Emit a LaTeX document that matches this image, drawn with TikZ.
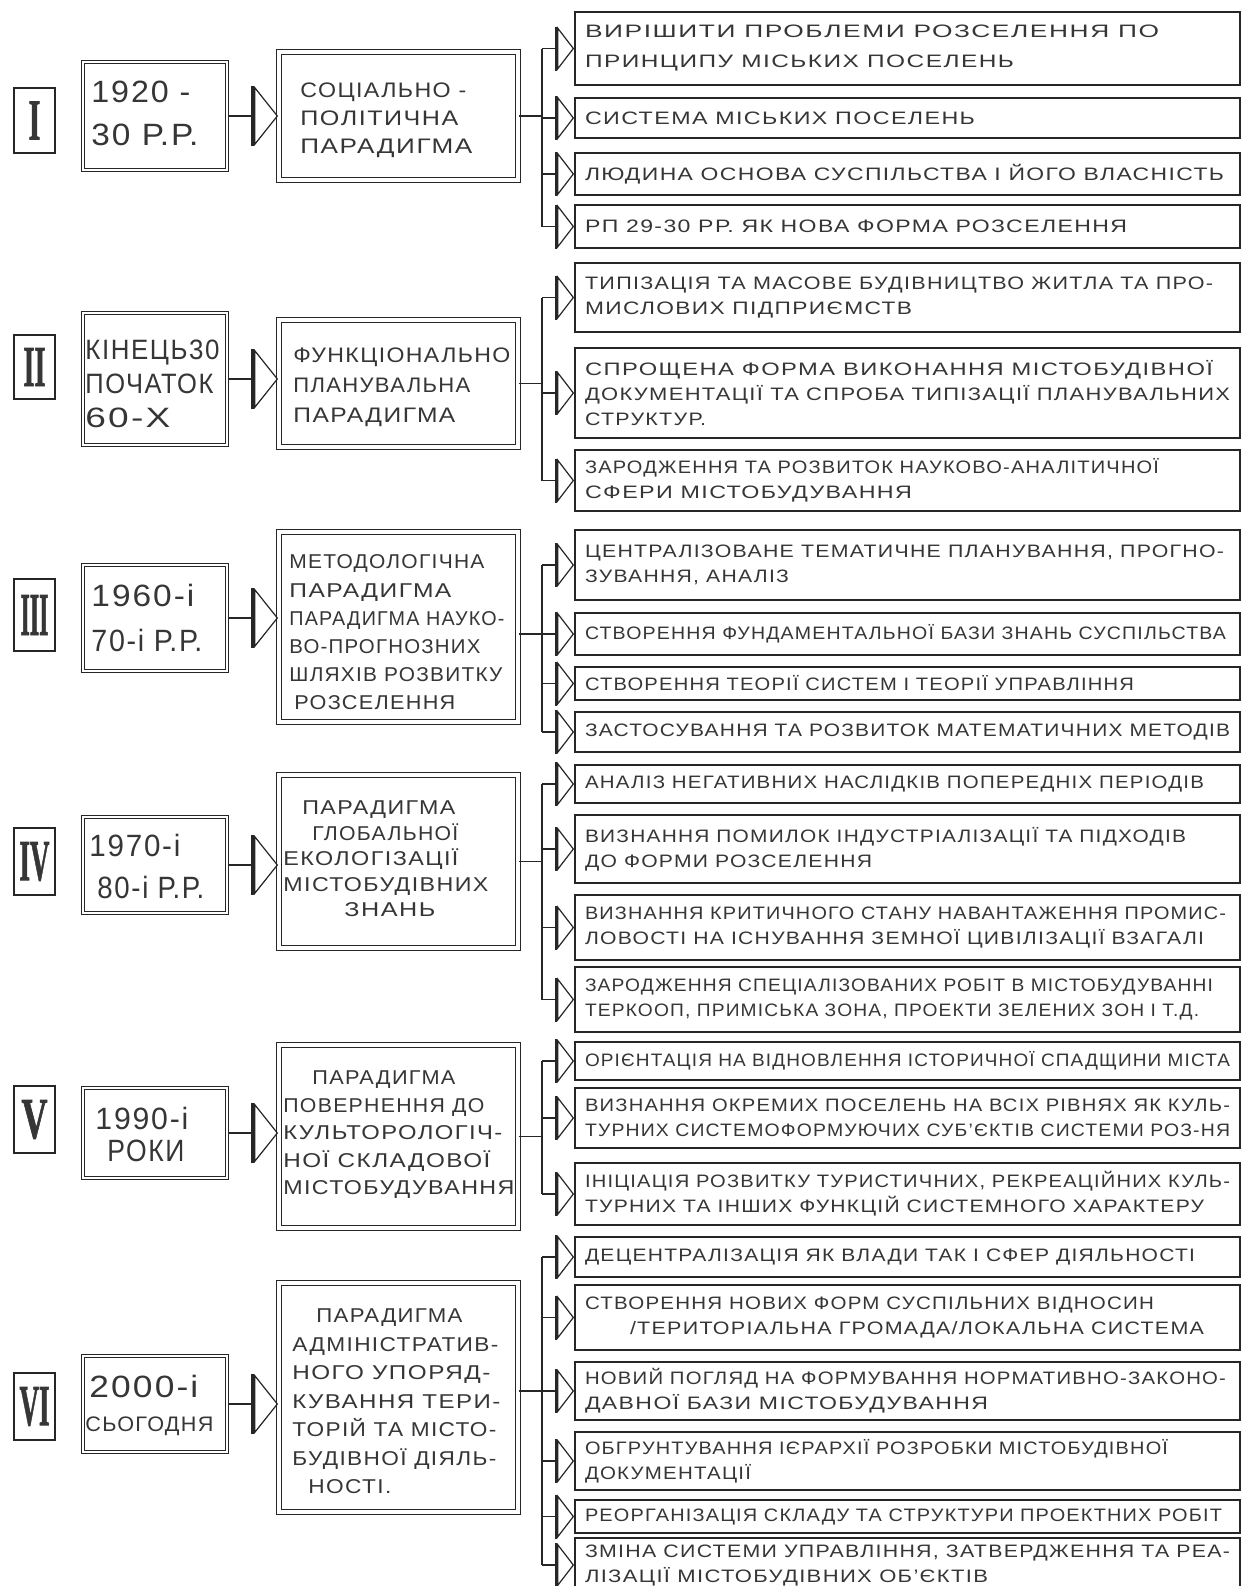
\documentclass[tikz,border=0pt]{standalone}
\usepackage{fontspec}
\usepackage{graphicx}
\usetikzlibrary{arrows.meta}
\newfontfamily\hand{Liberation Sans}[LetterSpace=6]
\newfontfamily\romanf{Liberation Serif}[FakeBold=1.5]
\newlength\pxu \setlength\pxu{0.5pt}
\newcommand\LL[2]{\resizebox{#1\pxu}{\height}{#2}}
\definecolor{ink}{HTML}{262626}
\definecolor{txt}{HTML}{363636}
\begin{document}
\begin{tikzpicture}[x=0.5pt,y=-0.5pt,
  line/.style={draw=ink, line width=0.7pt},
  rtip/.style={-{Bar[width=22pt,line width=1.3pt,sep=0pt]Triangle[open,length=8.5pt,width=22pt,line width=0.6pt,sep=0pt]}},
  mtip/.style={-{Bar[width=30pt,line width=1.6pt,sep=0pt]Triangle[open,length=12pt,width=30pt,line width=0.6pt,sep=0pt]}},
  roman/.style={draw=ink, line width=0.8pt, minimum width=41\pxu, inner sep=0pt, text=txt, font=\romanf\bfseries},
  ybox/.style={draw=ink, line width=0.7pt, double=white, double distance=1pt, minimum width=144\pxu, inner sep=0pt},
  pbox/.style={draw=ink, line width=0.9pt, double=white, double distance=1.6pt, minimum width=239\pxu, inner sep=0pt},
  ttext/.style={inner sep=0pt, align=left, anchor=west, text=txt},
  rbox/.style={draw=ink, line width=0.9pt, minimum width=665\pxu, text width=645\pxu, inner xsep=10\pxu, inner ysep=0pt, align=left, text=txt, font=\hand\fontsize{9}{12.5}\selectfont},
  yfont/.style={font=\hand\fontsize{15.4}{#1}\selectfont}
]
\fill[white] (0,0) rectangle (1243,1586);
\useasboundingbox (0,0) rectangle (1243,1586);
\coordinate (bus) at (542,0);

% ---------------- Row I
\node[roman, minimum height=65\pxu] (R1) at (34.5,120.5) {\resizebox{12\pxu}{38\pxu}{I}};
\node[ybox, minimum height=108\pxu] (Y1) at (155,116) {};
\node[ttext, yfont=21.5pt] (Y1t) at (91,113.5) {\LL{99}{1920 -}\\\LL{107}{30 Р.Р.}};
\node[pbox, minimum height=128\pxu] (P1) at (398.5,116) {};
\node[ttext, font=\hand\fontsize{10.5}{14}\selectfont] (P1t) at (300,120) {\LL{166}{СОЦІАЛЬНО -}\\\LL{158}{ПОЛІТИЧНА}\\\LL{172}{ПАРАДИГМА}};
\node[rbox, minimum height=73\pxu, font=\hand\fontsize{9}{15}\selectfont] (B11) at (907.5,48.5) {\LL{574}{ВИРІШИТИ ПРОБЛЕМИ РОЗСЕЛЕННЯ ПО}\\\LL{429}{ПРИНЦИПУ МІСЬКИХ ПОСЕЛЕНЬ}};
\node[rbox, minimum height=40\pxu] (B12) at (907.5,118) {\LL{390}{СИСТЕМА МІСЬКИХ ПОСЕЛЕНЬ}};
\node[rbox, minimum height=42\pxu] (B13) at (907.5,174) {\LL{639}{ЛЮДИНА ОСНОВА СУСПІЛЬСТВА І ЙОГО ВЛАСНІСТЬ}};
\node[rbox, minimum height=43\pxu] (B14) at (907.5,226.5) {\LL{542}{РП 29-30 РР. ЯК НОВА ФОРМА РОЗСЕЛЕННЯ}};
\draw[line, mtip] (Y1.east) -- (Y1.east -| P1.west);
\draw[line] (P1.east) -- (P1.east -| bus);
\draw[line] (bus |- B11.west) -- (bus |- B14.west);
\foreach \b in {B11,B12,B13,B14} \draw[line, rtip] (bus |- \b.west) -- (\b.west);

% ---------------- Row II
\node[roman, minimum height=64\pxu] (R2) at (34.5,367) {\resizebox{22\pxu}{38\pxu}{II}};
\node[ybox, minimum height=132\pxu] (Y2) at (155,379) {};
\node[ttext, font=\hand\fontsize{14}{17}\selectfont] (Y2t) at (85,384) {\LL{134}{КІНЕЦЬ30}\\\LL{128}{ПОЧАТОК}\\\LL{85}{60-Х}};
\node[pbox, minimum height=127\pxu] (P2) at (398.5,383.5) {};
\node[ttext, font=\hand\fontsize{10.5}{15}\selectfont] (P2t) at (293,387.5) {\LL{217}{ФУНКЦІОНАЛЬНО}\\\LL{177}{ПЛАНУВАЛЬНА}\\\LL{162}{ПАРАДИГМА}};
\node[rbox, minimum height=69\pxu] (B21) at (907.5,297.5) {\LL{628}{ТИПІЗАЦІЯ ТА МАСОВЕ БУДІВНИЦТВО ЖИТЛА ТА ПРО-}\\\LL{327}{МИСЛОВИХ ПІДПРИЄМСТВ}};
\node[rbox, minimum height=90\pxu] (B22) at (907.5,393) {\LL{628}{СПРОЩЕНА ФОРМА ВИКОНАННЯ МІСТОБУДІВНОЇ}\\\LL{645}{ДОКУМЕНТАЦІЇ ТА СПРОБА ТИПІЗАЦІЇ ПЛАНУВАЛЬНИХ}\\\LL{121}{СТРУКТУР.}};
\node[rbox, minimum height=61\pxu] (B23) at (907.5,480.5) {\LL{574}{ЗАРОДЖЕННЯ ТА РОЗВИТОК НАУКОВО-АНАЛІТИЧНОЇ}\\\LL{327}{СФЕРИ МІСТОБУДУВАННЯ}};
\draw[line, mtip] (Y2.east) -- (Y2.east -| P2.west);
\draw[line] (P2.east) -- (P2.east -| bus);
\draw[line] (bus |- B21.west) -- (bus |- B23.west);
\foreach \b in {B21,B22,B23} \draw[line, rtip] (bus |- \b.west) -- (\b.west);

% ---------------- Row III
\node[roman, minimum height=72\pxu] (R3) at (34.5,615) {\resizebox{28\pxu}{40\pxu}{III}};
\node[ybox, minimum height=106\pxu] (Y3) at (155,618) {};
\node[ttext, yfont=22.5pt] (Y3t) at (91,617.5) {\LL{103}{1960-і}\\\LL{111}{70-і Р.Р.}};
\node[pbox, minimum height=190\pxu] (P3) at (398.5,627) {};
\node[ttext, font=\hand\fontsize{10}{14.1}\selectfont] (P3t) at (289,632.5) {\LL{195}{МЕТОДОЛОГІЧНА}\\\LL{162}{ПАРАДИГМА}\\\LL{215}{ПАРАДИГМА НАУКО-}\\\LL{191}{ВО-ПРОГНОЗНИХ}\\\LL{213}{ШЛЯХІВ РОЗВИТКУ}\\\hspace*{5\pxu}\LL{161}{РОЗСЕЛЕННЯ}};
\node[rbox, minimum height=70\pxu] (B31) at (907.5,565) {\LL{639}{ЦЕНТРАЛІЗОВАНЕ ТЕМАТИЧНЕ ПЛАНУВАННЯ, ПРОГНО-}\\\LL{204}{ЗУВАННЯ, АНАЛІЗ}};
\node[rbox, minimum height=42\pxu] (B32) at (907.5,634) {\LL{641}{СТВОРЕННЯ ФУНДАМЕНТАЛЬНОЇ БАЗИ ЗНАНЬ СУСПІЛЬСТВА}};
\node[rbox, minimum height=33\pxu] (B33) at (907.5,683.5) {\LL{549}{СТВОРЕННЯ ТЕОРІЇ СИСТЕМ І ТЕОРІЇ УПРАВЛІННЯ}};
\node[rbox, minimum height=40\pxu] (B34) at (907.5,732) {\LL{645}{ЗАСТОСУВАННЯ ТА РОЗВИТОК МАТЕМАТИЧНИХ МЕТОДІВ}};
\draw[line, mtip] (Y3.east) -- (Y3.east -| P3.west);
\draw[line] (P3.east |- B32.west) -- (bus |- B32.west);
\draw[line] (bus |- B31.west) -- (bus |- B34.west);
\foreach \b in {B31,B32,B33,B34} \draw[line, rtip] (bus |- \b.west) -- (\b.west);

% ---------------- Row IV
\node[roman, minimum height=67\pxu] (R4) at (34.5,861.5) {\resizebox{30\pxu}{38\pxu}{IV}};
\node[ybox, minimum height=96\pxu] (Y4) at (155,865) {};
\node[ttext, yfont=21pt] (Y4t) at (89,866) {\LL{91}{1970-і}\\\hspace*{8\pxu}\LL{107}{80-і Р.Р.}};
\node[pbox, minimum height=173\pxu] (P4) at (398.5,861.5) {};
\node[ttext, font=\hand\fontsize{10}{12.75}\selectfont] (P4t) at (283,859) {\hspace*{19\pxu}\LL{153}{ПАРАДИГМА}\\\hspace*{29\pxu}\LL{146}{ГЛОБАЛЬНОЇ}\\\LL{175}{ЕКОЛОГІЗАЦІЇ}\\\LL{205}{МІСТОБУДІВНИХ}\\\hspace*{61\pxu}\LL{91}{ЗНАНЬ}};
\node[rbox, minimum height=38\pxu] (B41) at (907.5,784) {\LL{619}{АНАЛІЗ НЕГАТИВНИХ НАСЛІДКІВ ПОПЕРЕДНІХ ПЕРІОДІВ}};
\node[rbox, minimum height=68\pxu] (B42) at (907.5,849) {\LL{601}{ВИЗНАННЯ ПОМИЛОК ІНДУСТРІАЛІЗАЦІЇ ТА ПІДХОДІВ}\\\LL{287}{ДО ФОРМИ РОЗСЕЛЕННЯ}};
\node[rbox, minimum height=65\pxu] (B43) at (907.5,927.5) {\LL{641}{ВИЗНАННЯ КРИТИЧНОГО СТАНУ НАВАНТАЖЕННЯ ПРОМИС-}\\\LL{619}{ЛОВОСТІ НА ІСНУВАННЯ ЗЕМНОЇ ЦИВІЛІЗАЦІЇ ВЗАГАЛІ}};
\node[rbox, minimum height=65\pxu] (B44) at (907.5,999.5) {\LL{628}{ЗАРОДЖЕННЯ СПЕЦІАЛІЗОВАНИХ РОБІТ В МІСТОБУДУВАННІ}\\\LL{614}{ТЕРКООП, ПРИМІСЬКА ЗОНА, ПРОЕКТИ ЗЕЛЕНИХ ЗОН І Т.Д.}};
\draw[line, mtip] (Y4.east) -- (Y4.east -| P4.west);
\draw[line] (P4.east) -- (P4.east -| bus);
\draw[line] (bus |- B41.west) -- (bus |- B44.west);
\foreach \b in {B41,B42,B43,B44} \draw[line, rtip] (bus |- \b.west) -- (\b.west);

% ---------------- Row V
\node[roman, minimum height=67\pxu] (R5) at (34.5,1119.5) {\resizebox{26\pxu}{38\pxu}{V}};
\node[ybox, minimum height=90\pxu] (Y5) at (155,1133) {};
\node[ttext, yfont=16pt] (Y5t) at (95,1134) {\LL{93}{1990-і}\\\hspace*{12\pxu}\LL{77}{РОКИ}};
\node[pbox, minimum height=183\pxu] (P5) at (398.5,1136.5) {};
\node[ttext, font=\hand\fontsize{10}{13.75}\selectfont] (P5t) at (283,1135) {\hspace*{29\pxu}\LL{143}{ПАРАДИГМА}\\\LL{201}{ПОВЕРНЕННЯ ДО}\\\LL{219}{КУЛЬТОРОЛОГІЧ-}\\\LL{207}{НОЇ СКЛАДОВОЇ}\\\LL{231}{МІСТОБУДУВАННЯ}};
\node[rbox, minimum height=38\pxu] (B51) at (907.5,1061) {\LL{645}{ОРІЄНТАЦІЯ НА ВІДНОВЛЕННЯ ІСТОРИЧНОЇ СПАДЩИНИ МІСТА}};
\node[rbox, minimum height=60\pxu] (B52) at (907.5,1118) {\LL{645}{ВИЗНАННЯ ОКРЕМИХ ПОСЕЛЕНЬ НА ВСІХ РІВНЯХ ЯК КУЛЬ-}\\\LL{645}{ТУРНИХ СИСТЕМОФОРМУЮЧИХ СУБ’ЄКТІВ СИСТЕМИ РОЗ-НЯ}};
\node[rbox, minimum height=62\pxu] (B53) at (907.5,1194) {\LL{645}{ІНІЦІАЦІЯ РОЗВИТКУ ТУРИСТИЧНИХ, РЕКРЕАЦІЙНИХ КУЛЬ-}\\\LL{619}{ТУРНИХ ТА ІНШИХ ФУНКЦІЙ СИСТЕМНОГО ХАРАКТЕРУ}};
\draw[line, mtip] (Y5.east) -- (Y5.east -| P5.west);
\draw[line] (P5.east) -- (P5.east -| bus);
\draw[line] (bus |- B51.west) -- (bus |- B53.west);
\foreach \b in {B51,B52,B53} \draw[line, rtip] (bus |- \b.west) -- (\b.west);

% ---------------- Row VI
\node[roman, minimum height=67\pxu] (R6) at (34.5,1406.5) {\resizebox{30\pxu}{38\pxu}{VI}};
\node[ybox, minimum height=96\pxu] (Y6) at (155,1404) {};
\node[ttext, yfont=17pt] (Y6t) at (85,1405) {\hspace*{4\pxu}\LL{109}{2000-і}\\{\fontsize{10.5}{17}\selectfont\LL{128}{СЬОГОДНЯ}}};
\node[pbox, minimum height=229\pxu] (P6) at (398.5,1397.5) {};
\node[ttext, font=\hand\fontsize{10}{14.25}\selectfont] (P6t) at (292,1401.5) {\hspace*{24\pxu}\LL{146}{ПАРАДИГМА}\\\LL{206}{АДМІНІСТРАТИВ-}\\\LL{198}{НОГО УПОРЯД-}\\\LL{208}{КУВАННЯ ТЕРИ-}\\\LL{204}{ТОРІЙ ТА МІСТО-}\\\LL{204}{БУДІВНОЇ ДІЯЛЬ-}\\\hspace*{16\pxu}\LL{83}{НОСТІ.}};
\node[rbox, minimum height=40\pxu] (B61) at (907.5,1257) {\LL{610}{ДЕЦЕНТРАЛІЗАЦІЯ ЯК ВЛАДИ ТАК І СФЕР ДІЯЛЬНОСТІ}};
\node[rbox, minimum height=65\pxu] (B62) at (907.5,1317.5) {\LL{569}{СТВОРЕННЯ НОВИХ ФОРМ СУСПІЛЬНИХ ВІДНОСИН}\\\hspace*{45\pxu}\LL{574}{/ТЕРИТОРІАЛЬНА ГРОМАДА/ЛОКАЛЬНА СИСТЕМА}};
\node[rbox, minimum height=58\pxu] (B63) at (907.5,1391) {\LL{641}{НОВИЙ ПОГЛЯД НА ФОРМУВАННЯ НОРМАТИВНО-ЗАКОНО-}\\\LL{403}{ДАВНОЇ БАЗИ МІСТОБУДУВАННЯ}};
\node[rbox, minimum height=58\pxu] (B64) at (907.5,1461) {\LL{583}{ОБГРУНТУВАННЯ ІЄРАРХІЇ РОЗРОБКИ МІСТОБУДІВНОЇ}\\\LL{166}{ДОКУМЕНТАЦІЇ}};
\node[rbox, minimum height=33\pxu] (B65) at (907.5,1516.5) {\LL{637}{РЕОРГАНІЗАЦІЯ СКЛАДУ ТА СТРУКТУРИ ПРОЕКТНИХ РОБІТ}};
\node[rbox, minimum height=54\pxu] (B66) at (907.5,1565) {\LL{645}{ЗМІНА СИСТЕМИ УПРАВЛІННЯ, ЗАТВЕРДЖЕННЯ ТА РЕА-}\\\LL{403}{ЛІЗАЦІЇ МІСТОБУДІВНИХ ОБ’ЄКТІВ}};
\draw[line, mtip] (Y6.east) -- (Y6.east -| P6.west);
\draw[line] (P6.east |- B63.west) -- (bus |- B63.west);
\draw[line] (bus |- B61.west) -- (bus |- B66.west);
\foreach \b in {B61,B62,B63,B64,B65,B66} \draw[line, rtip] (bus |- \b.west) -- (\b.west);
\end{tikzpicture}
\end{document}
